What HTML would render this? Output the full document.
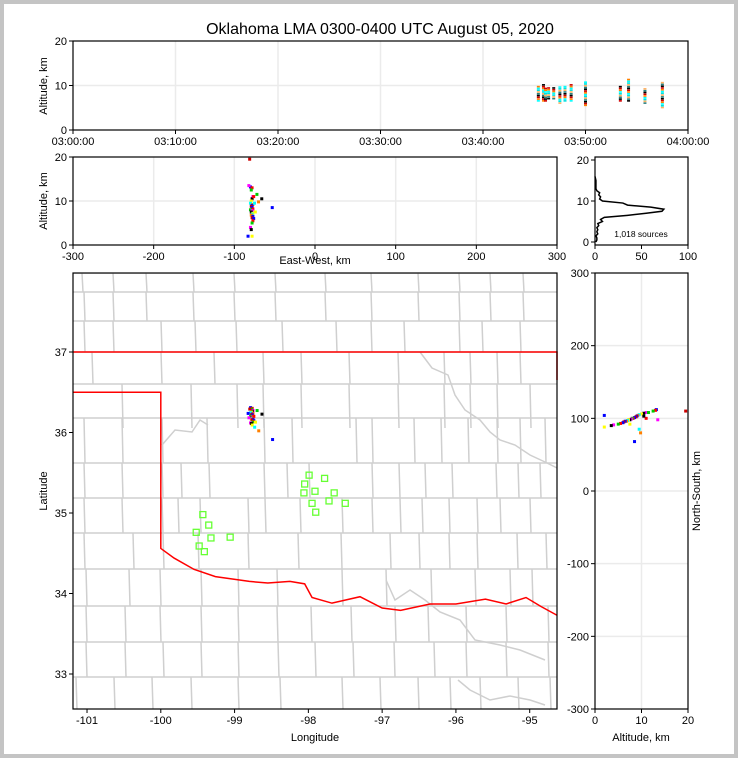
<!DOCTYPE html>
<html><head><meta charset="utf-8">
<style>
html,body{margin:0;padding:0;background:#fff;}
#wrap{position:relative;width:738px;height:758px;box-sizing:border-box;border:4px solid #c4c4c4;background:#fff;overflow:hidden;}
svg{position:absolute;left:-4px;top:-4px;}
text{font-family:"Liberation Sans",sans-serif;fill:#000;}
</style></head>
<body>
<div id="wrap">
<svg id="chart" width="738" height="758" xmlns="http://www.w3.org/2000/svg">
<text x="380" y="34" font-size="16" text-anchor="middle">Oklahoma LMA 0300-0400 UTC August 05, 2020</text>
</svg>
</div>
<script>
// ---- data ----
const timeTickLabels = ["03:00:00","03:10:00","03:20:00","03:30:00","03:40:00","03:50:00","04:00:00"];
const colTimes = [45.4,45.9,46.1,46.4,46.9,47.5,48.0,48.6,50.0,53.4,54.2,55.8,57.5];
const colAltLo = [6.5,6.5,6.5,7.0,7.0,6.0,6.5,6.5,5.5,6.5,6.5,6.0,5.0];
const colAltHi = [10.0,10.5,9.5,9.5,9.5,10.0,10.0,10.5,11.0,10.0,11.5,9.5,11.0];
const srcEW = [-80,-78,-79,-77,-78,-79,-80,-77,-78,-79,-78,-77,-80,-78,-79,-77,-78,-79,-77,-78,-76,-77,-78,-80,-79,-78,-75,-70,-53,-81,-83,-76,-72,-82,-66,-74];
const srcNS = [112,111,110,108,107,106,105,104,103,102,101,100,100,99,98,98,97,96,96,95,94,93,92,91,90,88,85,80,68,110,104,100,108,98,103,92];
const srcAlt = [13.2,13.0,12.5,11.0,10.5,10.0,9.5,9.2,9.0,8.8,8.5,8.2,8.0,7.8,7.5,7.2,7.0,6.8,6.5,6.2,6.0,5.5,5.0,4.0,3.5,2.0,9.5,9.8,8.5,19.5,2.0,11.0,11.5,13.5,10.5,7.5];
const histAlt = [0,0.5,1,1.5,2,2.5,3,3.5,4,4.5,5,5.5,6,6.5,7,7.5,8,8.5,9,9.5,10,10.5,11,11.5,12,12.5,13,13.5,14,15,16];
const histCount = [1,2,2,1,3,2,3,2,4,3,8,6,10,35,55,72,74,60,35,30,8,5,6,4,5,2,1,1,1,1,0];
const stationLon = [-99.43,-99.35,-99.52,-99.32,-99.48,-99.41,-99.06,-97.99,-97.78,-98.05,-97.91,-97.65,-98.06,-97.95,-97.72,-97.50,-97.90];
const stationLat = [34.98,34.85,34.76,34.69,34.59,34.52,34.70,35.47,35.43,35.36,35.27,35.25,35.25,35.12,35.15,35.12,35.01];
const lonTicks = [-101,-100,-99,-98,-97,-96,-95];
const latTicks = [33,34,35,36,37];
const redRiverLon = [-100.0,-99.82,-99.55,-99.26,-98.8,-98.55,-98.25,-98.05,-97.95,-97.68,-97.3,-97.0,-96.75,-96.35,-96.0,-95.6,-95.32,-95.05,-94.85,-94.63];
const redRiverLat = [34.56,34.44,34.30,34.21,34.15,34.13,34.15,34.12,33.95,33.88,33.96,33.82,33.79,33.87,33.87,33.93,33.87,33.95,33.84,33.73];
const netLon0 = -97.9, netLat0 = 35.3;

// ---- helpers ----
const svg = document.getElementById('chart');
const NS='http://www.w3.org/2000/svg';
function mk(tag, attrs, parent){const e=document.createElementNS(NS,tag);for(const k in attrs)e.setAttribute(k,attrs[k]);(parent||svg).appendChild(e);return e;}
function txt(x,y,s,size,anchor,parent){const t=mk('text',{x:x,y:y,'font-size':size||11,'text-anchor':anchor||'middle'},parent);t.textContent=s;return t;}
const mix=['#0000ff','#ff0000','#00cc00','#ff00ff','#000000','#ffff00','#00ffff','#ff8000','#0000ff','#cc0000'];
function col(i){return mix[i%mix.length];}
function scale(d0,d1,r0,r1){return v=>r0+(v-d0)*(r1-r0)/(d1-d0);}
function grid(x0,y0,x1,y1,xs,ys){xs.forEach(x=>{const l=mk('line',{x1:x,y1:y0,x2:x,y2:y1,stroke:'#ebebeb','stroke-width':1.5});});ys.forEach(y=>{const l=mk('line',{x1:x0,y1:y,x2:x1,y2:y,stroke:'#ebebeb','stroke-width':1.5});});}
function frame(x0,y0,x1,y1,name){const r=mk('rect',{x:x0,y:y0,width:x1-x0,height:y1-y0,fill:'none',stroke:'#000','stroke-width':1.2});}
function ytick(x,y,label,left){mk('line',{x1:x,y1:y,x2:left?x-4:x+4,y2:y,stroke:'#000'});txt(left?x-6:x+7,y+4,label,11,left?'end':'start');}
function xtick(x,y,label){mk('line',{x1:x,y1:y,x2:x,y2:y+4,stroke:'#000'});txt(x,y+15,label,11);}

// ---- top panel: time-height ----
{const X=scale(0,60,73,688),Y=scale(0,20,130,41);
grid(73,41,688,130,[10,20,30,40,50].map(X),[10].map(Y));
const g=mk('g',{});
const pal=['#00ffff','#ff8000','#d00000','#000','#2a8080','#ffb060','#00e0e0'];
colTimes.forEach((t,i)=>{for(let a=colAltLo[i],k=0;a<=colAltHi[i];a+=0.4,k++){const r=mk('rect',{x:X(t)-1.5,y:Y(a)-1,width:3,height:1.6,fill:pal[(k+i)%pal.length]},g);}});
frame(73,41,688,130,'time-height-axes');
[0,10,20].forEach(v=>ytick(73,Y(v),v,true));
timeTickLabels.forEach((s,i)=>xtick(X(i*10),130,s));
const yl=txt(47,86,'Altitude, km',11);yl.setAttribute('transform','rotate(-90 47 86)');}

// ---- middle panel: EW-alt ----
{const X=scale(-300,300,73,557),Y=scale(0,20,245,157);
grid(73,157,557,245,[-200,-100,0,100,200].map(X),[10].map(Y));
const g=mk('g',{});
srcEW.forEach((e,i)=>{const r=mk('rect',{x:X(e)-1.5,y:Y(srcAlt[i])-1.5,width:3,height:3,fill:col(i)},g);});
frame(73,157,557,245,'ew-alt-axes');
[0,10,20].forEach(v=>ytick(73,Y(v),v,true));
[-300,-200,-100,0,100,200,300].forEach(v=>xtick(X(v),245,v));
const yl=txt(47,201,'Altitude, km',11);yl.setAttribute('transform','rotate(-90 47 201)');
const xl=txt(315,264,'East-West, km',11);}

// ---- histogram ----
{const X=scale(0,100,595,688),Y=scale(0,20,242,160);
const pts=histAlt.map((a,i)=>X(histCount[i])+','+Y(a)).join(' ');
const p=mk('polyline',{points:pts,fill:'none',stroke:'#000','stroke-width':1.5});
frame(595,157,688,245,'histogram-axes');
[0,10,20].forEach(v=>ytick(595,Y(v),v,true));
[0,50,100].forEach(v=>xtick(X(v),245,v));
const t=txt(641,237,'1,018 sources',8.5);}

// ---- map ----
{const X=scale(-101.19,-94.63,73,557),Y=scale(37,33,352,674);
mk('clipPath',{id:'mc'},mk('defs',{})).appendChild(document.createElementNS(NS,'rect'));
const cr=document.querySelector('#mc rect');cr.setAttribute('x',73);cr.setAttribute('y',273);cr.setAttribute('width',484);cr.setAttribute('height',436);
const cg=mk('g',{'clip-path':'url(#mc)',stroke:'#cfcfcf','stroke-width':1.5,fill:'none'});
const rows=[[273,292,[82,113,146,193,234,275,325,371,418,459,490,523]],[292,321,[84,113,146,193,234,275,325,371,418,459,490,523]],[321,352,[84,113,161,195,236,282,336,371,404,459,482,520]],
[352,384,[92,161,214,263,301,349,398,444,470,497,520]],[384,428,[122,191,237,263,301,349,398,444,470,497,530]],[418,463,[84,122,162,207,264,292,356,372,414,441,468,497,520,545]],
[463,498,[84,122,162,181,209,264,287,309,372,399,425,452,496,518,540]],[498,533,[84,122,162,178,200,248,265,300,342,372,400,422,449,477,500,530]],[533,569,[84,133,163,198,248,298,341,390,419,449,477,517,546]],
[569,606,[86,129,160,201,238,277,342,386,431,475,510,532]],[606,642,[86,125,160,201,238,277,311,351,395,428,466,506,548]],[642,677,[86,125,163,201,238,278,315,353,394,434,466,506,548]],[677,709,[76,114,152,191,238,280,342,380,418,450,480,518,550]]];
rows.forEach(([y0,y1,xs])=>{mk('line',{x1:73,y1:y0,x2:557,y2:y0},cg);xs.forEach(x=>mk('line',{x1:x,y1:y0,x2:x+1,y2:y1},cg));});
mk('polyline',{points:'420,352 432,368 448,375 455,395 465,410 480,420 490,432 500,440 515,445 530,455 545,462 557,468'},cg);
mk('polyline',{points:'162,445 175,430 192,432 200,420 208,425'},cg);
mk('polyline',{points:'386,580 395,600 410,590 425,600 440,612 460,620 475,640 500,645 520,650 545,660'},cg);
mk('polyline',{points:'458,680 470,690 490,700 510,696 530,700 545,705'},cg);
// red border
const rr=redRiverLon.map((l,i)=>X(l)+','+Y(redRiverLat[i])).join(' ');
const b=mk('polyline',{points:`73,${Y(37)} 557,${Y(37)} 557,380`,fill:'none',stroke:'#ff0000','stroke-width':1.5});
const b2=mk('polyline',{points:`73,${Y(36.5)} ${X(-100)},${Y(36.5)} `+rr,fill:'none',stroke:'#ff0000','stroke-width':1.5});
// stations
stationLon.forEach((l,i)=>{const r=mk('rect',{x:X(l)-3,y:Y(stationLat[i])-3,width:6,height:6,fill:'none',stroke:'#66ff33','stroke-width':1.3});});
// sources
srcEW.forEach((e,i)=>{const lon=netLon0+e/90.6,lat=netLat0+srcNS[i]/111;const r=mk('rect',{x:X(lon)-1.5,y:Y(lat)-1.5,width:3,height:3,fill:col(i)});});
frame(73,273,557,709,'map-axes');
latTicks.forEach(v=>ytick(73,Y(v),v,true));
lonTicks.forEach(v=>xtick(X(v),709,v));
const yl=txt(47,491,'Latitude',11);yl.setAttribute('transform','rotate(-90 47 491)');
const xl=txt(315,741,'Longitude',11);}

// ---- right panel: alt vs NS ----
{const X=scale(0,20,595,688),Y=scale(-300,300,709,273);
grid(595,273,688,709,[10].map(X),[-200,-100,0,100,200].map(Y));
srcNS.forEach((n,i)=>{const r=mk('rect',{x:X(srcAlt[i])-1.5,y:Y(n)-1.5,width:3,height:3,fill:col(i)});});
frame(595,273,688,709,'ns-alt-axes');
[-300,-200,-100,0,100,200,300].forEach(v=>ytick(595,Y(v),v,true));
[0,10,20].forEach(v=>xtick(X(v),709,v));
const yl=txt(700,491,'North-South, km',11);yl.setAttribute('transform','rotate(-90 700 491)');
const xl=txt(641,741,'Altitude, km',11);}
</script>
</body></html>
